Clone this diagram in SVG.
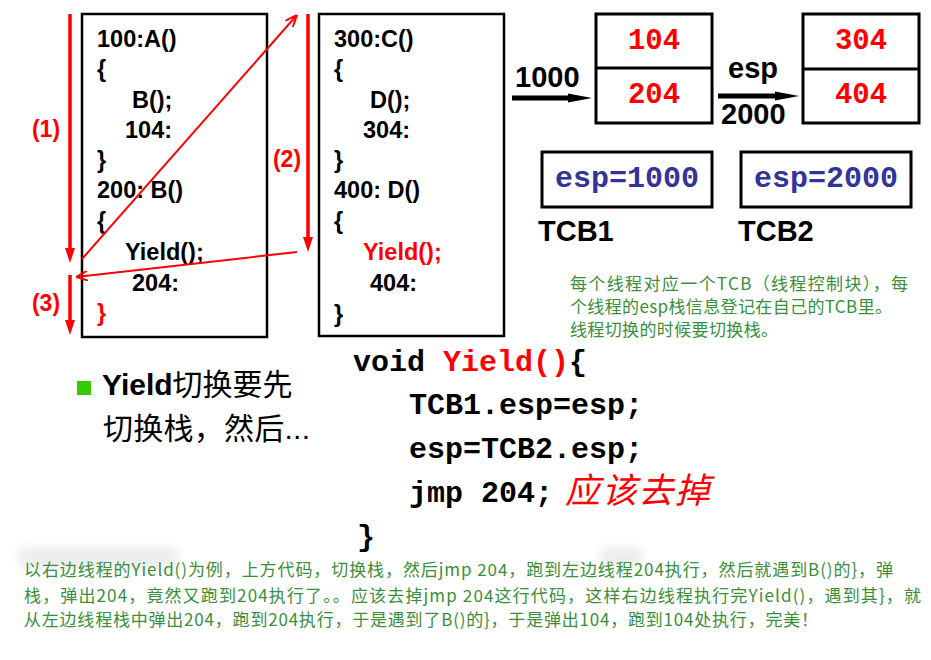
<svg xmlns="http://www.w3.org/2000/svg" width="931" height="660" viewBox="0 0 931 660">
<style>
  .box{fill:#fff;stroke:#000;stroke-width:2.5}
  .stk{fill:#fff;stroke:#000;stroke-width:3}
  .code{font-family:"Liberation Sans",Arial,sans-serif;font-weight:bold;font-size:23.5px;fill:#000}
  .red{fill:#f00}
  .lbl{font-family:"Liberation Sans",Arial,sans-serif;font-weight:bold;font-size:23px;fill:#f00;text-anchor:middle}
  .mono{font-family:"Liberation Mono","Courier New",monospace;font-weight:bold}
  .num{font-size:29px;fill:#f00;text-anchor:middle}
  .tcb{font-size:30px;fill:#333399;text-anchor:middle}
  .big{font-family:"Liberation Sans",Arial,sans-serif;font-weight:bold;font-size:29px;fill:#000}
  .yc{font-size:30px;fill:#000}
  .green{font-family:"Noto Sans CJK SC","Microsoft YaHei",sans-serif;font-size:17px;fill:#3b8e3b}
  .cn{font-family:"Liberation Sans","Noto Sans CJK SC",sans-serif;font-size:30px;fill:#000}
  .thin{stroke:#f00;stroke-width:2;fill:none}
  .thick{stroke:#f00;stroke-width:3.5;fill:none}
  .blk{stroke:#000;stroke-width:5;fill:none}
</style>
<defs>
  <marker id="openRed" markerUnits="userSpaceOnUse" viewBox="0 0 12 10" markerWidth="12" markerHeight="10" refX="12" refY="5" orient="auto">
    <path d="M0,0 L12,5 L0,10" fill="none" stroke="#f00" stroke-width="2"/>
  </marker>
  <marker id="fillRed" markerUnits="userSpaceOnUse" viewBox="0 0 15 10" markerWidth="15" markerHeight="10" refX="0" refY="5" orient="auto">
    <path d="M0,0 L15,5 L0,10 z" fill="#f00"/>
  </marker>
  <marker id="fillBlk" markerUnits="userSpaceOnUse" viewBox="0 0 24 10" markerWidth="24" markerHeight="10" refX="0" refY="5" orient="auto">
    <path d="M0,0.5 L24,5 L0,9.5 z" fill="#000"/>
  </marker>
  <filter id="blur" x="-20%" y="-50%" width="140%" height="200%">
    <feGaussianBlur stdDeviation="4"/>
  </filter>
</defs>
<rect width="931" height="660" fill="#fff"/>

<g id="smudges" filter="url(#blur)" fill="#d8d8d8" opacity="0.45">
  <rect x="18" y="547" width="160" height="22" rx="8"/>
  <rect x="600" y="547" width="42" height="20" rx="6"/>
</g>

<g id="threadA">
  <rect class="box" x="82" y="14" width="185" height="323"/>
  <text class="code" x="97" y="47">100:A()</text>
  <text class="code" x="97" y="77">{</text>
  <text class="code" x="132" y="108">B();</text>
  <text class="code" x="125" y="138">104:</text>
  <text class="code" x="97" y="168">}</text>
  <text class="code" x="97" y="198">200: B()</text>
  <text class="code" x="97" y="229">{</text>
  <text class="code" x="125" y="260">Yield();</text>
  <text class="code" x="132" y="291">204:</text>
  <text class="code red" x="97" y="321">}</text>
</g>

<g id="threadC">
  <rect class="box" x="319" y="14" width="185" height="322"/>
  <text class="code" x="334" y="47">300:C()</text>
  <text class="code" x="334" y="77">{</text>
  <text class="code" x="370" y="108">D();</text>
  <text class="code" x="363" y="138">304:</text>
  <text class="code" x="334" y="168">}</text>
  <text class="code" x="334" y="198">400: D()</text>
  <text class="code" x="334" y="229">{</text>
  <text class="code red" x="363" y="260">Yield();</text>
  <text class="code" x="370" y="291">404:</text>
  <text class="code" x="334" y="322">}</text>
</g>

<g id="stack1">
  <rect class="stk" x="596" y="14" width="116" height="109"/>
  <line x1="596" y1="68" x2="712" y2="68" stroke="#000" stroke-width="3"/>
  <text class="mono num" x="654" y="49">104</text>
  <text class="mono num" x="654" y="103">204</text>
</g>

<g id="stack2">
  <rect class="stk" x="803" y="14" width="116" height="109"/>
  <line x1="803" y1="69" x2="919" y2="69" stroke="#000" stroke-width="3"/>
  <text class="mono num" x="861" y="49">304</text>
  <text class="mono num" x="861" y="103">404</text>
</g>

<g id="tcb1">
  <rect class="stk" x="542" y="152" width="170" height="55"/>
  <text class="mono tcb" x="627" y="187">esp=1000</text>
  <text class="big" x="538" y="241">TCB1</text>
</g>

<g id="tcb2">
  <rect class="stk" x="741" y="152" width="170" height="55"/>
  <text class="mono tcb" x="826" y="187">esp=2000</text>
  <text class="big" x="738" y="241">TCB2</text>
</g>

<g id="connectors">
  <line class="thick" x1="70" y1="14" x2="70" y2="248" marker-end="url(#fillRed)"/>
  <line class="thick" x1="308" y1="14" x2="308" y2="237" marker-end="url(#fillRed)"/>
  <line class="thick" x1="70" y1="275" x2="70" y2="320" marker-end="url(#fillRed)"/>
  <line class="thin" x1="82" y1="259" x2="297" y2="15" marker-end="url(#openRed)"/>
  <line class="thin" x1="297" y1="252" x2="76" y2="277" marker-end="url(#openRed)"/>
  <line class="blk" x1="512" y1="98" x2="568" y2="98" marker-end="url(#fillBlk)"/>
  <line class="blk" x1="718" y1="96" x2="775" y2="96" marker-end="url(#fillBlk)"/>
</g>

<g id="labels">
  <text class="lbl" x="46" y="137">(1)</text>
  <text class="lbl" x="287" y="167">(2)</text>
  <text class="lbl" x="46" y="311">(3)</text>
  <text class="big" x="515" y="87">1000</text>
  <text class="big" x="728" y="78">esp</text>
  <text class="big" x="721" y="124">2000</text>
</g>

<g id="note">
  <text class="green" x="570" y="290" textLength="338" lengthAdjust="spacing">每个线程对应一个TCB（线程控制块），每</text>
  <text class="green" x="570" y="313" textLength="322" lengthAdjust="spacing">个线程的esp栈信息登记在自己的TCB里。</text>
  <text class="green" x="570" y="336" textLength="208" lengthAdjust="spacing">线程切换的时候要切换栈。</text>
</g>

<g id="bullet">
  <rect x="77" y="381" width="14" height="14" fill="#33cc00"/>
  <text class="cn" x="102" y="395"><tspan font-weight="bold" font-family="Liberation Sans, Arial, sans-serif">Yield</tspan><tspan font-family="Noto Sans CJK SC, sans-serif">切换要先</tspan></text>
  <text class="cn" x="103" y="439" font-family="Noto Sans CJK SC, sans-serif" textLength="207" lengthAdjust="spacing">切换栈，然后...</text>
</g>

<g id="yieldCode">
  <text class="mono yc" x="353" y="371">void <tspan fill="#f00">Yield()</tspan>{</text>
  <text class="mono yc" x="409" y="414">TCB1.esp=esp;</text>
  <text class="mono yc" x="409" y="458">esp=TCB2.esp;</text>
  <text class="mono yc" x="409" y="502">jmp 204;</text>
  <text x="565" y="503" font-family="Noto Sans CJK SC, sans-serif" font-size="35" font-style="italic" fill="#f00" textLength="145" lengthAdjust="spacing">应该去掉</text>
  <text class="mono yc" x="357" y="546" fill="#f00">}</text>
</g>

<g id="explain">
  <text class="green" x="24" y="576" textLength="869" lengthAdjust="spacing">以右边线程的Yield()为例，上方代码，切换栈，然后jmp 204，跑到左边线程204执行，然后就遇到B()的}，弹</text>
  <text class="green" x="24" y="602" textLength="897" lengthAdjust="spacing">栈，弹出204，竟然又跑到204执行了。。应该去掉jmp 204这行代码，这样右边线程执行完Yield()，遇到其}，就</text>
  <text class="green" x="24" y="626" textLength="794" lengthAdjust="spacing">从左边线程栈中弹出204，跑到204执行，于是遇到了B()的}，于是弹出104，跑到104处执行，完美！</text>
</g>
</svg>
